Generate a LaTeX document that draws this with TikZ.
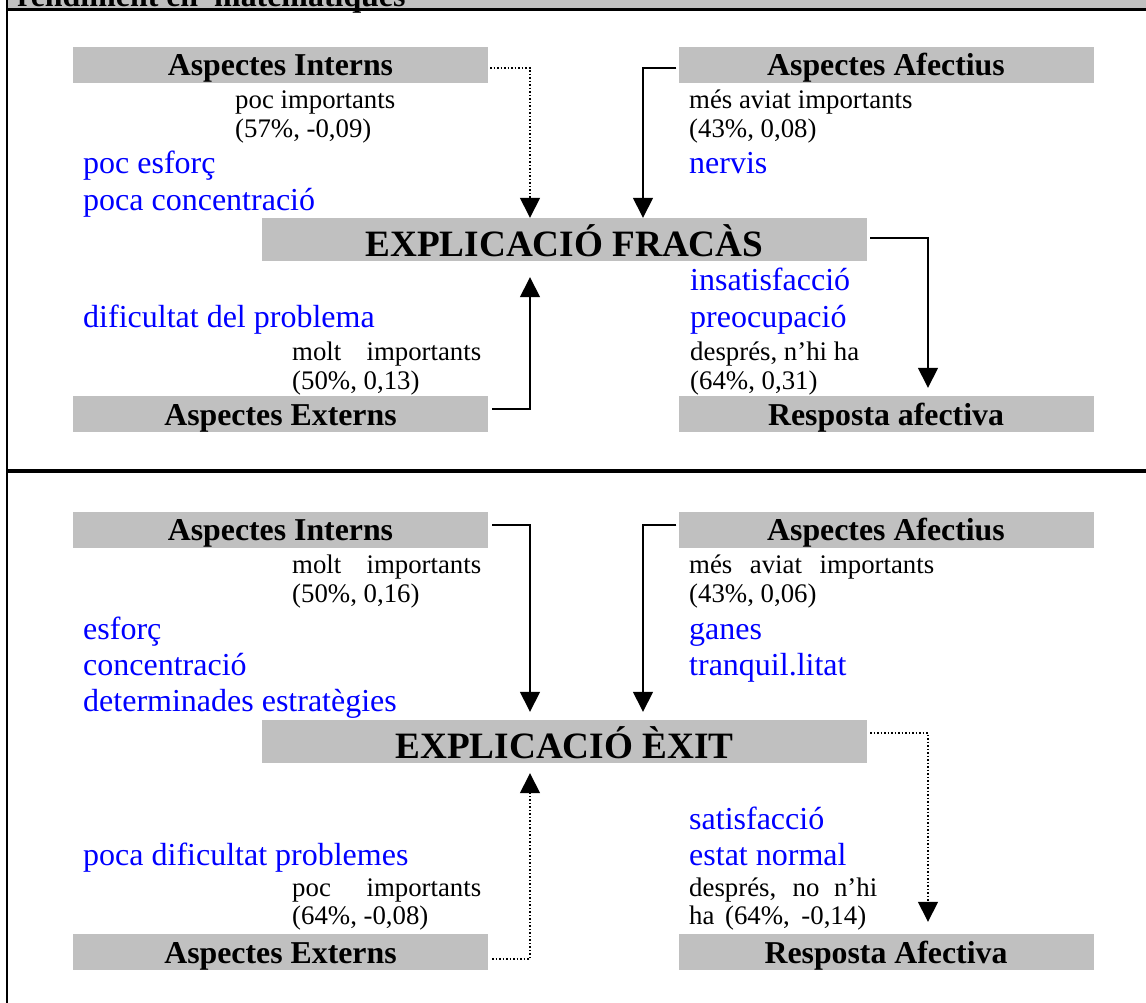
\documentclass[tikz,border=0pt]{standalone}
\usepackage{fontspec}
\setmainfont{Liberation Serif}
\usetikzlibrary{arrows.meta,calc}
\definecolor{boxgray}{RGB}{192,192,192}
\definecolor{itemblue}{RGB}{0,0,255}

\begin{document}
\begin{tikzpicture}[x=1pt,y=-1pt,
  label box/.style={fill=boxgray, inner sep=0pt, minimum width=415pt,
    text height=29pt, text depth=7pt,
    font=\fontsize{31.8}{36}\selectfont\bfseries},
  title box/.style={fill=boxgray, inner sep=0pt, minimum width=605pt,
    text height=38pt, text depth=5pt,
    font=\fontsize{37.2}{42}\selectfont\bfseries},
  note/.style={anchor=base west, inner sep=0pt,
    font=\fontsize{26.8}{29}\selectfont},
  item/.style={anchor=base west, inner sep=0pt, text=itemblue,
    font=\fontsize{32}{36}\selectfont},
  conn/.style={line width=1.5pt, -{Triangle[width=20pt,length=20pt]}},
  dotconn/.style={conn, dotted},
  frame/.style={line width=2.5pt}
]
\useasboundingbox (0,0) rectangle (1146,1003);
\clip (0,0) rectangle (1146,1003);

% table header row and frame
\fill[boxgray] (7,0) rectangle (1146,9);
\node[anchor=base west, inner sep=0pt,
  font=\fontsize{31.9}{36}\selectfont\bfseries] (head) at (17,7)
  {rendiment en\ \ matemàtiques};
\draw[frame] (7,9.5) -- (1146,9.5);
\draw[frame] (7,0) -- (7,1003);
\draw[line width=3.5pt] (7,471) -- (1146,471);

% ---------- failure ----------
\node[label box] (ai1) at (280.5,65) {Aspectes Interns};
\node[label box] (aa1) at (886,65) {Aspectes Afectius};
\node[title box] (ef) at (564.5,239.5) {EXPLICACIÓ FRACÀS};
\node[label box] (ae1) at (280.5,414) {Aspectes Externs};
\node[label box] (ra1) at (886,414) {Resposta afectiva};

\node[note] (ai1a) at (235,109) {poc importants};
\node[note] (ai1b) at (235,138) {(57\%, -0,09)};
\node[item] (ai1c) at (83,174) {poc esforç};
\node[item] (ai1d) at (83,211) {poca concentració};

\node[note] (aa1a) at (689,109) {més aviat importants};
\node[note] (aa1b) at (689,138) {(43\%, 0,08)};
\node[item] (aa1c) at (689,174) {nervis};

\node[item] (ra1a) at (690,290) {insatisfacció};
\node[item] (ra1b) at (690,327) {preocupació};
\node[note] (ra1c) at (690,360) {després, n’hi ha};
\node[note] (ra1d) at (690,389) {(64\%, 0,31)};

\node[item] (ae1a) at (83,327) {dificultat del problema};
\node[note] (ae1b) at (292,360) {\makebox[189pt][s]{molt importants}};
\node[note] (ae1c) at (292,389) {(50\%, 0,13)};

\draw[dotconn] ([xshift=2pt,yshift=-3pt]ai1.east) -| ([xshift=-34.5pt]ef.north);
\draw[conn] ([xshift=-2pt,yshift=-3pt]aa1.west) -| ([xshift=78.5pt]ef.north);
\draw[conn] ([xshift=4pt,yshift=5pt]ae1.east) -| ([xshift=-34.5pt,yshift=-16pt]ef.south);
\draw[conn] ([xshift=3pt,yshift=1.5pt]ef.east) -| ([xshift=42pt,yshift=8pt]ra1.north);

% ---------- success ----------
\node[label box] (ai2) at (280.5,529.5) {Aspectes Interns};
\node[label box] (aa2) at (886,529.5) {Aspectes Afectius};
\node[title box] (ex) at (564.5,741.5) {EXPLICACIÓ ÈXIT};
\node[label box] (ae2) at (280.5,952) {Aspectes Externs};
\node[label box] (ra2) at (886,952) {Resposta Afectiva};

\node[note] (ai2a) at (292,573) {\makebox[189pt][s]{molt importants}};
\node[note] (ai2b) at (292,602) {(50\%, 0,16)};
\node[item] (ai2c) at (83,639) {esforç};
\node[item] (ai2d) at (83,675) {concentració};
\node[item] (ai2e) at (83,711) {determinades estratègies};

\node[note] (aa2a) at (689,573) {\makebox[245pt][s]{més aviat importants}};
\node[note] (aa2b) at (689,602) {(43\%, 0,06)};
\node[item] (aa2c) at (689,639) {ganes};
\node[item] (aa2d) at (689,675) {tranquil.litat};

\node[item] (ra2a) at (689,829) {satisfacció};
\node[item] (ra2b) at (689,865) {estat normal};
\node[note] (ra2c) at (689,896) {\makebox[188pt][s]{després, no n’hi}};
\node[note] (ra2d) at (689,924) {\makebox[177pt][s]{ha (64\%, -0,14)}};

\node[item] (ae2a) at (83,865) {poca dificultat problemes};
\node[note] (ae2b) at (292,896) {\makebox[189pt][s]{poc importants}};
\node[note] (ae2c) at (292,924) {(64\%, -0,08)};

\draw[conn] ([xshift=4pt,yshift=4.5pt]ai2.east) -| ([xshift=-34.5pt,yshift=8pt]ex.north);
\draw[conn] ([xshift=-2pt,yshift=4.5pt]aa2.west) -| ([xshift=78.5pt,yshift=8pt]ex.north);
\draw[dotconn] ([xshift=4pt,yshift=-7pt]ae2.east) -| ([xshift=-34.5pt,yshift=-10pt]ex.south);
\draw[dotconn] ([xshift=3pt,yshift=8.5pt]ex.east) -| ([xshift=42pt,yshift=12pt]ra2.north);
\end{tikzpicture}
\end{document}
